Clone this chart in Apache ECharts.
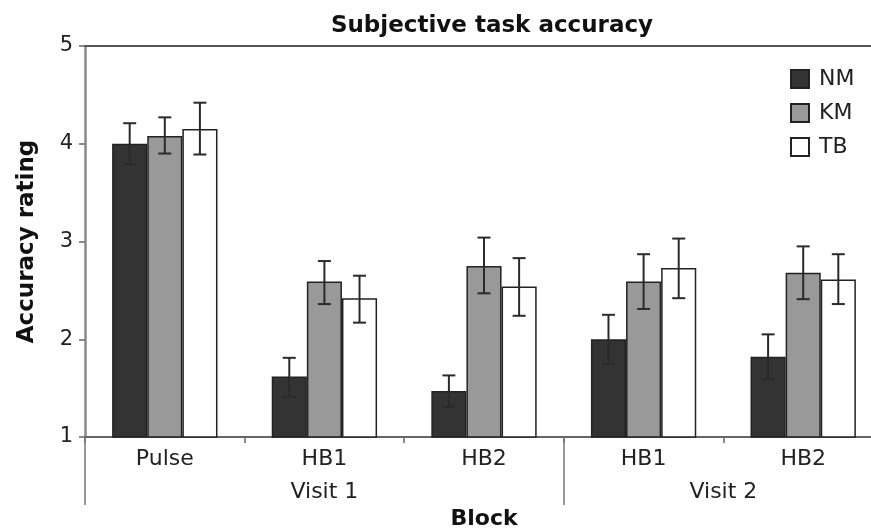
<!DOCTYPE html>
<html>
<head>
<meta charset="utf-8">
<script src="https://cdn.jsdelivr.net/npm/echarts@6/dist/echarts.min.js"></script>
<style>
html,body{margin:0;padding:0;background:#fff;}
#c{width:871px;height:531px;}
</style>
</head>
<body>
<div id="c"></div>
<script>
var categories = ['Pulse', 'HB1', 'HB2', 'HB1', 'HB2'];
var visits = ['Visit 1', 'Visit 2'];
var seriesNames = ['NM', 'KM', 'TB'];
var nmValues = [4.00, 1.62, 1.47, 2.00, 1.82];
var nmLow    = [3.79, 1.41, 1.31, 1.75, 1.59];
var nmHigh   = [4.21, 1.81, 1.63, 2.25, 2.05];
var kmValues = [4.08, 2.59, 2.75, 2.59, 2.68];
var kmLow    = [3.90, 2.36, 2.47, 2.31, 2.41];
var kmHigh   = [4.27, 2.80, 3.04, 2.87, 2.95];
var tbValues = [4.15, 2.42, 2.54, 2.73, 2.61];
var tbLow    = [3.89, 2.17, 2.24, 2.42, 2.36];
var tbHigh   = [4.42, 2.65, 2.83, 3.03, 2.87];
var yTicks = [1, 2, 3, 4, 5];

var FONT = '"DejaVu Sans", Verdana, sans-serif';
var barColors = ['#333333', '#999999', '#ffffff'];
var values = [nmValues, kmValues, tbValues];
var lows = [nmLow, kmLow, tbLow];
var highs = [nmHigh, kmHigh, tbHigh];
var CAT_GAP = 0.34;

var chart = echarts.init(document.getElementById('c'), null, {renderer: 'canvas'});

var series = [];
seriesNames.forEach(function (name, i) {
  series.push({
    name: name,
    type: 'bar',
    data: values[i],
    barGap: '0%',
    barCategoryGap: (CAT_GAP * 100) + '%',
    itemStyle: {color: barColors[i], borderColor: '#222', borderWidth: 1.5},
    emphasis: {disabled: true}
  });
});
seriesNames.forEach(function (name, i) {
  series.push({
    name: name + ' err',
    type: 'custom',
    z: 10,
    encode: {x: 0, y: [1, 2]},
    data: categories.map(function (c, k) { return [k, lows[i][k], highs[i][k]]; }),
    renderItem: function (params, api) {
      var band = api.size([1, 0])[0];
      var bw = band * (1 - CAT_GAP) / 3;
      var off = (i - 1) * bw;
      var lo = api.coord([api.value(0), api.value(1)]);
      var hi = api.coord([api.value(0), api.value(2)]);
      var x = lo[0] + off;
      var cap = 6.5;
      var st = {stroke: '#2a2a2a', lineWidth: 2};
      return {
        type: 'group',
        children: [
          {type: 'line', shape: {x1: x, y1: lo[1], x2: x, y2: hi[1]}, style: st},
          {type: 'line', shape: {x1: x - cap, y1: lo[1], x2: x + cap, y2: lo[1]}, style: st},
          {type: 'line', shape: {x1: x - cap, y1: hi[1], x2: x + cap, y2: hi[1]}, style: st}
        ]
      };
    }
  });
});

chart.setOption({
  animation: false,
  backgroundColor: '#ffffff',
  title: {
    text: 'Subjective task accuracy',
    left: 487, textAlign: 'center', top: 10,
    textStyle: {fontFamily: FONT, fontWeight: 'bold', fontSize: 23, color: '#111'}
  },
  legend: {
    data: seriesNames,
    orient: 'vertical',
    icon: 'rect',
    left: 785, top: 63,
    itemWidth: 18, itemHeight: 18, itemGap: 12,
    textStyle: {fontFamily: FONT, fontSize: 22, color: '#222', padding: [0, 0, 0, 5]},
    selectedMode: false
  },
  grid: {left: 85, top: 46, width: 798, height: 391, containLabel: false, outerBoundsMode: 'none'},
  xAxis: [
    {
      type: 'category',
      data: categories,
      position: 'bottom',
      axisLine: {lineStyle: {color: '#666', width: 2}},
      axisTick: {show: true, length: 6, lineStyle: {color: '#666', width: 1.5}},
      axisLabel: {fontFamily: FONT, fontSize: 22, color: '#222', margin: 11}
    },
    {
      type: 'value',
      min: 0, max: 5,
      position: 'bottom',
      axisLine: {show: false},
      splitLine: {show: false},
      axisTick: {show: true, customValues: [0, 3], length: 68, lineStyle: {color: '#777', width: 1.5}},
      axisLabel: {
        show: true, customValues: [1.5, 4], margin: 44,
        fontFamily: FONT, fontSize: 22, color: '#222',
        formatter: function (v) { return v < 3 ? visits[0] : visits[1]; }
      },
      name: 'Block', nameLocation: 'middle', nameGap: 70,
      nameTextStyle: {fontFamily: FONT, fontWeight: 'bold', fontSize: 22, color: '#111'}
    },
    {
      type: 'category',
      data: categories,
      position: 'top',
      axisLine: {lineStyle: {color: '#555', width: 2}},
      axisTick: {show: false},
      axisLabel: {show: false}
    }
  ],
  yAxis: {
    type: 'value',
    min: 1, max: 5, interval: 1,
    axisLine: {show: true, lineStyle: {color: '#888', width: 2.5}},
    axisTick: {show: true, length: 6, lineStyle: {color: '#666', width: 1.5}},
    splitLine: {show: false},
    axisLabel: {fontFamily: FONT, fontSize: 21, color: '#222', margin: 12,
      formatter: function (v) { return yTicks.indexOf(v) >= 0 ? String(v) : ''; }},
    name: 'Accuracy rating', nameLocation: 'middle', nameGap: 46,
    nameTextStyle: {fontFamily: FONT, fontWeight: 'bold', fontSize: 23, color: '#111'}
  },
  series: series
});
</script>
</body>
</html>
